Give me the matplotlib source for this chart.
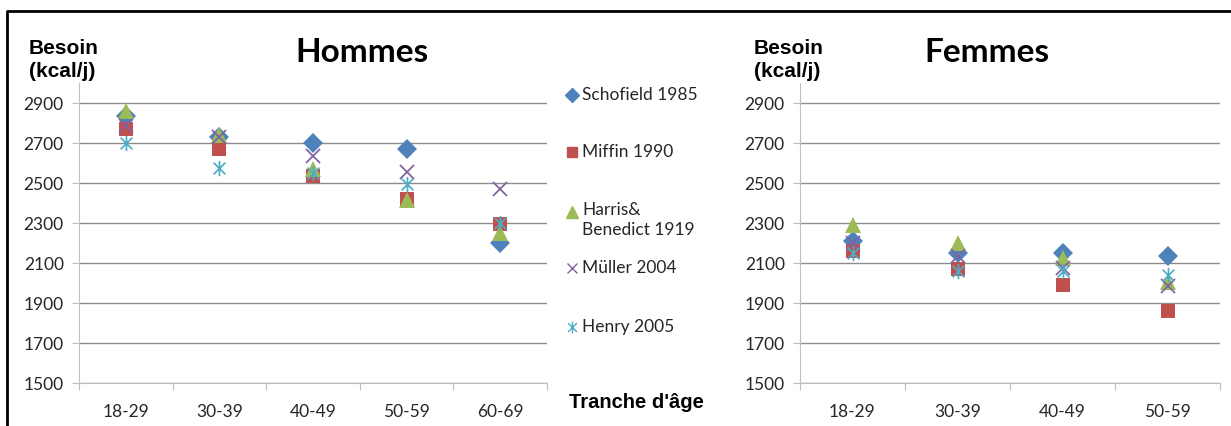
import matplotlib
matplotlib.use("Agg")
import matplotlib.pyplot as plt
from matplotlib.path import Path
from matplotlib.lines import Line2D

# data (kcal/j)
series = ["Schofield 1985", "Miffin 1990", "Harris&\nBenedict 1919", "Müller 2004", "Henry 2005"]
ages_h = ["18-29", "30-39", "40-49", "50-59", "60-69"]
ages_f = ["18-29", "30-39", "40-49", "50-59"]

schofield_h = [2835, 2730, 2700, 2670, 2200]
miffin_h = [2770, 2670, 2535, 2420, 2295]
harris_h = [2860, 2740, 2570, 2415, 2250]
muller_h = [2785, 2730, 2635, 2555, 2470]
henry_h = [2700, 2575, 2550, 2495, 2300]

schofield_f = [2210, 2150, 2150, 2135]
miffin_f = [2160, 2070, 1990, 1860]
harris_f = [2290, 2200, 2125, 2005]
muller_f = [2200, 2135, 2075, 1985]
henry_f = [2150, 2060, 2060, 2040]

star = Path([(-1, -1), (1, 1), (-1, 1), (1, -1), (0, -1.3), (0, 1.3)],
            [Path.MOVETO, Path.LINETO, Path.MOVETO, Path.LINETO, Path.MOVETO, Path.LINETO])

styles = [
    dict(marker="D", color="#4F81BD", ms=10, mew=0),
    dict(marker="s", color="#C0504D", ms=10.5, mew=0),
    dict(marker="^", color="#9BBB59", ms=11.5, mew=0),
    dict(marker="x", color="#8064A2", ms=10.5, mew=1.3),
    dict(marker=star, color="#4BACC6", ms=11, mew=1.2),
]

W, H = 1231, 426
fig = plt.figure(figsize=(W / 100, H / 100), dpi=100)

lbl_font = "Lato"
grid_c = "#8C8C8C"
spine_c = "#BFBFBF"
txt_c = "#262626"


def setup(ax, cats):
    n = len(cats)
    ax.set_xlim(-0.5, n - 0.5)
    ax.set_ylim(1500, 3000)
    ax.set_yticks(range(1500, 3000, 200))
    ax.set_xticks([i - 0.5 for i in range(n + 1)])
    ax.set_xticklabels([])
    ax.set_xticks(range(n), minor=True)
    ax.set_xticklabels(cats, minor=True, fontsize=12.5, family=lbl_font, color=txt_c)
    ax.tick_params(axis="x", which="major", direction="out", length=5, color=spine_c)
    ax.tick_params(axis="x", which="minor", length=0, pad=15)
    ax.tick_params(axis="y", direction="out", length=5, color=spine_c, pad=6)
    for t in ax.get_yticklabels():
        t.set_fontsize(12.5)
        t.set_family(lbl_font)
        t.set_color(txt_c)
    for s in ["top", "right"]:
        ax.spines[s].set_visible(False)
    ax.spines["left"].set_color(spine_c)
    ax.spines["bottom"].set_color(spine_c)
    ax.yaxis.grid(True, color=grid_c, lw=1)
    ax.set_axisbelow(True)


def ax_rect(x0, x1, ytop, ybot):
    return [x0 / W, 1 - ybot / H, (x1 - x0) / W, (ybot - ytop) / H]


ax1 = fig.add_axes(ax_rect(79, 547, 83, 383))
ax2 = fig.add_axes(ax_rect(800, 1220, 83, 383))

for ax, cats, vals in [
    (ax1, ages_h, [schofield_h, miffin_h, harris_h, muller_h, henry_h]),
    (ax2, ages_f, [schofield_f, miffin_f, harris_f, muller_f, henry_f]),
]:
    setup(ax, cats)
    for v, st in zip(vals, styles):
        ax.plot(range(len(cats)), v, ls="none", marker=st["marker"], ms=st["ms"],
                mfc=st["color"], mec=st["color"], mew=st["mew"], clip_on=False)

# titles and axis captions
fig.text(362 / W, 1 - 52 / H, "Hommes", ha="center", va="center", fontsize=24,
         fontweight="bold", family=lbl_font)
fig.text(987 / W, 1 - 52 / H, "Femmes", ha="center", va="center", fontsize=24,
         fontweight="bold", family=lbl_font)
for x in [29, 754]:
    fig.text(x / W, 1 - 60 / H, "Besoin\n(kcal/j)", ha="left", va="center", fontsize=15,
             fontweight="bold", family="Liberation Sans", linespacing=1.25)
fig.text(569 / W, 1 - 403 / H, "Tranche d'âge", ha="left", va="center", fontsize=14.5,
         fontweight="bold", family="Liberation Sans")

# legend
leg_y = [95, 152, 212, 268, 327]
for name, st, y in zip(series, styles, leg_y):
    fig.add_artist(Line2D([572 / W], [1 - y / H], transform=fig.transFigure, ls="none",
                          marker=st["marker"], ms=st["ms"] * 0.75, mfc=st["color"],
                          mec=st["color"], mew=1))
    if "\n" in name:
        fig.text(582 / W, 1 - (y - 10) / H, name, ha="left", va="top", fontsize=12.5,
                 family=lbl_font, color=txt_c, linespacing=1.3)
    else:
        fig.text(582 / W, 1 - y / H, name, ha="left", va="center", fontsize=12.5,
                 family=lbl_font, color=txt_c)

# outer frame (top and left edges)
fig.add_artist(Line2D([7 / W, 7 / W, 1], [0, 1 - 11 / H, 1 - 11 / H],
                      transform=fig.transFigure, color="black", lw=2))

fig.savefig("out.png", dpi=100)
